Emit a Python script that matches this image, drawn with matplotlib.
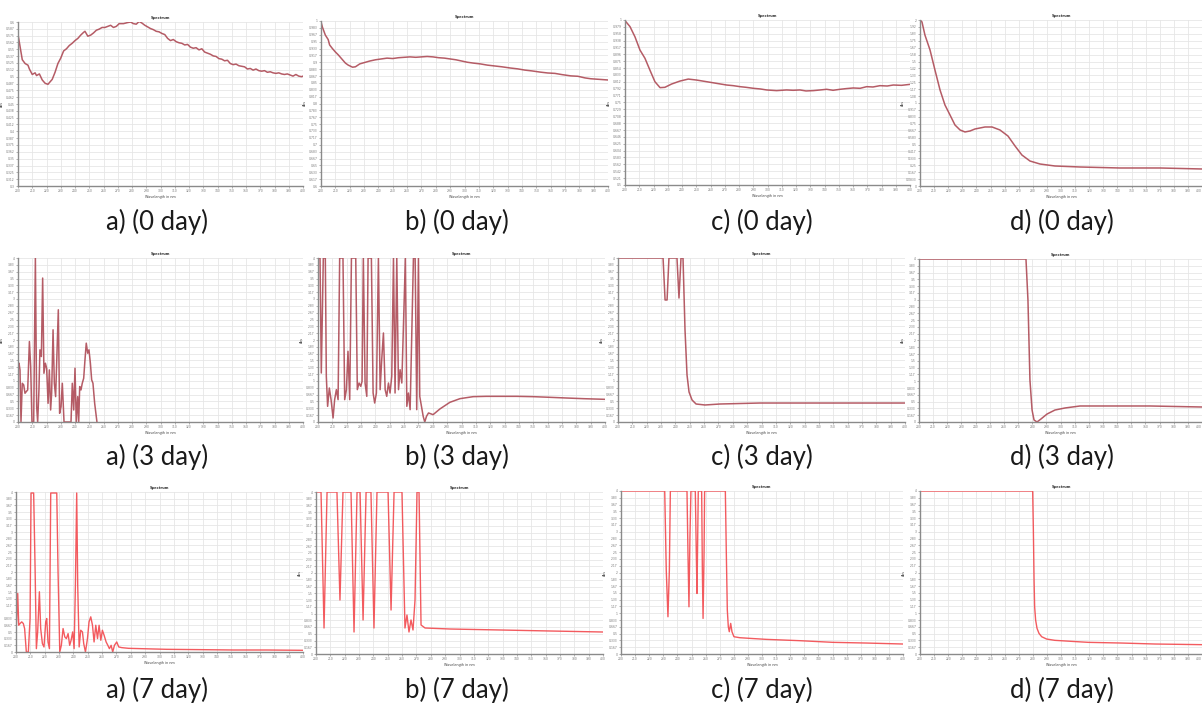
import numpy as np
import matplotlib
matplotlib.use("Agg")
import matplotlib.pyplot as plt

# ---------------- data (wavelength nm, absorbance) ----------------
a0_x = [200, 201, 203, 205, 207, 208, 210, 212, 213, 215, 217, 219, 221, 222, 224, 226, 228, 230,
        232, 234, 236, 238, 240, 242, 244, 246, 247, 249, 251, 253, 255, 257, 259, 261, 263, 265,
        267, 269, 271, 274, 277, 279, 281, 283, 285, 287, 289, 291, 293, 295, 297, 299, 301, 303,
        305, 307, 309, 311, 313, 315, 317, 319, 321, 323, 325, 327, 329, 331, 333, 335, 337, 339,
        341, 343, 345, 347, 349, 351, 353, 355, 357, 359, 361, 363, 365, 367, 369, 371, 373, 375,
        377, 379, 381, 383, 385, 387, 389, 391, 393, 395, 397, 399, 400]
a0_y = [0.577, 0.562, 0.531, 0.524, 0.521, 0.514, 0.504, 0.507, 0.502, 0.505, 0.494, 0.488, 0.486,
        0.489, 0.495, 0.508, 0.524, 0.534, 0.547, 0.551, 0.557, 0.561, 0.566, 0.570, 0.576, 0.581,
        0.583, 0.574, 0.576, 0.580, 0.585, 0.587, 0.590, 0.590, 0.592, 0.594, 0.590, 0.592, 0.597,
        0.597, 0.599, 0.600, 0.597, 0.596, 0.601, 0.598, 0.594, 0.591, 0.588, 0.586, 0.583, 0.582,
        0.579, 0.577, 0.570, 0.566, 0.568, 0.564, 0.562, 0.561, 0.558, 0.559, 0.554, 0.552, 0.553,
        0.549, 0.551, 0.545, 0.543, 0.541, 0.538, 0.537, 0.533, 0.532, 0.529, 0.530, 0.524, 0.522,
        0.523, 0.520, 0.519, 0.518, 0.514, 0.515, 0.512, 0.514, 0.511, 0.510, 0.511, 0.508, 0.509,
        0.507, 0.506, 0.507, 0.505, 0.504, 0.505, 0.503, 0.501, 0.504, 0.501, 0.500, 0.501]

b0_x = [200, 201, 203, 205, 206, 208, 210, 212, 214, 217, 219, 222, 224, 227, 230, 234, 238, 242,
        246, 250, 254, 258, 262, 266, 270, 274, 278, 282, 286, 290, 294, 298, 302, 306, 311, 316,
        321, 326, 332, 337, 342, 347, 353, 358, 363, 368, 374, 379, 384, 388, 392, 396, 400]
b0_y = [0.998, 0.985, 0.966, 0.955, 0.942, 0.933, 0.925, 0.918, 0.910, 0.898, 0.893, 0.888, 0.889,
        0.896, 0.899, 0.903, 0.906, 0.908, 0.910, 0.909, 0.911, 0.912, 0.913, 0.912, 0.913, 0.914,
        0.913, 0.911, 0.910, 0.908, 0.906, 0.903, 0.900, 0.898, 0.896, 0.893, 0.891, 0.889, 0.886,
        0.884, 0.881, 0.879, 0.876, 0.874, 0.873, 0.870, 0.867, 0.866, 0.862, 0.860, 0.859, 0.858,
        0.857]

c0_x = [200, 203.5, 207, 210.5, 214, 217.5, 221, 224.6, 228, 232.7, 238.6, 244.4, 250.3, 257.3,
        264.3, 271.3, 276, 280.7, 285, 290.1, 295, 299.4, 306.4, 313.4, 318, 322.8, 327, 332.2,
        337, 341.5, 346, 350.9, 355, 360.2, 365, 369.6, 374, 378.9, 384, 388.3, 394, 400]
c0_y = [0.998, 0.980, 0.949, 0.909, 0.884, 0.848, 0.813, 0.795, 0.796, 0.806, 0.815, 0.821, 0.818,
        0.813, 0.808, 0.803, 0.801, 0.798, 0.796, 0.793, 0.791, 0.788, 0.786, 0.788, 0.787, 0.788,
        0.785, 0.786, 0.788, 0.790, 0.787, 0.790, 0.792, 0.794, 0.793, 0.798, 0.797, 0.801, 0.800,
        0.803, 0.802, 0.805]

d0_x = [200, 201.4, 203.5, 207.1, 210.6, 214.2, 217.7, 221.3, 224.8, 228.4, 231.9, 235.5, 239.0,
        246.1, 251.1, 256.7, 262.4, 267.4, 272.3, 278.0, 285.1, 295.7, 313.5, 341.8, 370.2, 400]
d0_y = [2.00, 1.976, 1.819, 1.639, 1.398, 1.157, 0.976, 0.855, 0.735, 0.675, 0.651, 0.663, 0.687,
        0.711, 0.711, 0.675, 0.602, 0.482, 0.373, 0.301, 0.265, 0.241, 0.229, 0.217, 0.217, 0.205]

a3_x = [200.0, 200.7, 201.4, 202.1, 203.0, 204.0, 204.9, 205.8, 206.8, 208.0, 208.9, 209.8, 211.0,
        212.2, 213.1, 213.8, 214.7, 215.4, 216.4, 217.3, 218.2, 219.2, 220.1, 221.1, 222.0, 222.9,
        223.6, 224.6, 225.5, 226.4, 228.3, 229.2, 230.2, 231.1, 232.3, 237.2, 238.1, 239.1, 240.0,
        240.9, 241.9, 242.6, 243.3, 244.2, 245.1, 246.1, 247.0, 247.9, 248.9, 249.8, 250.8, 251.7,
        252.6, 253.8, 255.4, 256.5]
a3_y = [1.393, 1.434, 1.271, 0.008, 0.945, 0.904, 0.701, 0.741, 0.782, 1.963, 1.352, 0.0, 0.0,
        4.0, 0.375, 0.0, 0.782, 1.760, 1.597, 3.511, 1.189, 1.434, 1.312, 0.456, 1.271, 0.293,
        0.701, 2.249, 0.945, 0.619, 2.737, 0.212, 0.375, 0.945, 0.0, 0.0, 0.945, 0.293, 1.312,
        0.0, 0.619, 0.0, 0.864, 0.782, 0.945, 1.067, 1.515, 1.923, 1.678, 1.760, 1.434, 1.027,
        0.945, 0.456, 0.0, -0.3]

b3_x = [200.0, 201.4, 202.3, 203.0, 203.7, 205.1, 205.8, 206.7, 207.9, 209.1, 210.5, 211.6, 212.8,
        214.0, 215.1, 217.4, 218.6, 219.8, 220.9, 222.1, 223.3, 226.3, 227.4, 228.6, 229.8, 230.7,
        231.6, 232.8, 234.0, 234.9, 237.2, 238.4, 239.5, 240.7, 242.1, 243.3, 244.4, 245.6, 246.8,
        247.9, 249.1, 250.2, 251.4, 252.6, 253.7, 254.9, 256.1, 257.2, 258.4, 260.9, 261.9, 263.0,
        264.2, 266.5, 267.7, 268.8, 270.0, 270.9, 272.1, 273.3, 274.4, 275.6, 277.0, 278.4, 280.2,
        284.9, 291.9, 298.9, 308.1, 317.4, 326.8, 338.4, 350.0, 361.7, 373.3, 384.9, 400.0]
b3_y = [4.0, 4.0, 1.195, 2.577, 4.0, 4.0, 1.114, 0.382, 0.829, 0.545, 0.098, 0.545, 0.789, 0.545,
        4.0, 4.0, 0.545, 0.789, 1.724, 0.545, 4.0, 4.0, 0.789, 0.951, 0.870, 0.992, 4.0, 0.951,
        0.626, 4.0, 4.0, 0.707, 0.463, 0.707, 4.0, 0.789, 1.520, 2.171, 0.789, 0.626, 0.951, 0.707,
        1.114, 4.0, 0.707, 4.0, 0.789, 1.276, 0.951, 4.0, 0.382, 0.707, 0.301, 4.0, 4.0, 0.301,
        4.0, 0.626, 0.382, 0.138, 0.0, 0.138, 0.220, 0.203, 0.179, 0.317, 0.480, 0.569, 0.618,
        0.626, 0.626, 0.626, 0.618, 0.602, 0.585, 0.569, 0.553]

c3_x = [200, 231.4, 232.8, 234.2, 235.5, 241.1, 242.5, 243.9, 245.3, 246.7, 248.1, 249.5, 251.6,
        254.4, 260.6, 271.1, 299.0, 326.9, 361.7, 400]
c3_y = [4.0, 4.0, 2.976, 2.976, 4.0, 4.0, 3.024, 4.0, 4.0, 2.244, 1.146, 0.732, 0.537, 0.439,
        0.415, 0.439, 0.463, 0.463, 0.463, 0.463]

d3_x = [200, 275.6, 277.0, 278.4, 279.9, 281.3, 283.4, 286.2, 290.5, 296.1, 303.2, 313.8, 335.0,
        363.2, 400]
d3_y = [4.0, 4.0, 2.994, 1.031, 0.294, 0.049, 0.0, 0.074, 0.196, 0.294, 0.344, 0.393, 0.393,
        0.393, 0.368]

a7_x = [200.0, 200.5, 201.2, 201.9, 202.8, 204.0, 205.1, 206.0, 207.2, 208.6, 209.8, 210.5, 212.3,
        213.3, 214.2, 215.1, 216.3, 217.2, 218.4, 219.5, 220.7, 221.4, 222.3, 223.3, 224.2, 228.4,
        229.3, 230.5, 231.6, 232.8, 234.0, 235.1, 236.3, 237.4, 238.4, 239.5, 240.5, 241.4, 242.3,
        243.0, 244.0, 245.1, 246.3, 247.2, 248.4, 249.8, 250.9, 252.1, 253.3, 254.4, 255.6, 256.8,
        257.9, 259.1, 260.2, 261.4, 262.8, 264.0, 265.1, 266.3, 267.4, 268.6, 270.2, 271.6, 273.7,
        278.4, 286.5, 305.1, 328.4, 351.7, 374.9, 400.0]
a7_y = [0.502, 0.837, 1.464, 0.669, 0.711, 0.753, 0.711, 0.586, 0.0, 0.0, 0.837, 3.975, 3.975,
        2.092, 0.084, 0.502, 1.506, 0.586, 0.209, 0.126, 0.753, 0.837, 0.251, 0.084, 3.975, 3.975,
        2.008, 0.0, 0.167, 0.586, 0.377, 0.335, 0.460, 0.167, 0.293, 0.502, 0.084, 1.674, 3.975,
        1.674, 0.126, 0.544, 0.502, 0.209, 0.0, 0.335, 0.753, 0.879, 0.669, 0.251, 0.669, 0.335,
        0.669, 0.293, 0.544, 0.418, 0.251, 0.167, 0.084, 0.167, 0.0, 0.167, 0.251, 0.126, 0.109,
        0.092, 0.084, 0.067, 0.059, 0.050, 0.050, 0.042]

b7_x = [200.0, 203.5, 205.6, 207.7, 214.6, 216.7, 218.8, 224.4, 226.5, 228.6, 230.7, 232.8, 234.9,
        238.3, 240.4, 242.5, 250.2, 252.3, 254.4, 259.9, 262.0, 263.4, 264.8, 266.2, 267.6, 269.0,
        270.4, 271.8, 273.2, 276.0, 293.4, 328.2, 363.1, 400.0]
b7_y = [4.0, 4.0, 0.642, 4.0, 4.0, 1.333, 4.0, 4.0, 0.543, 4.0, 4.0, 0.840, 4.0, 4.0, 0.642, 4.0,
        4.0, 1.086, 4.0, 4.0, 0.642, 0.963, 0.543, 0.840, 0.593, 1.333, 4.0, 4.0, 0.716, 0.642,
        0.617, 0.593, 0.568, 0.543]

c7_x = [200, 231.0, 232.1, 233.3, 234.3, 235.0, 246.8, 247.5, 248.2, 248.9, 249.6, 252.7, 253.4,
        253.9, 254.4, 254.8, 257.2, 257.7, 258.2, 258.9, 259.3, 274.0, 274.7, 275.4, 276.1, 276.8,
        277.8, 278.7, 280.1, 284.2, 291.3, 303.1, 326.7, 350.4, 374.0, 400.0]
c7_y = [4.0, 4.0, 2.057, 0.914, 2.057, 4.0, 4.0, 2.465, 1.159, 2.873, 4.0, 4.0, 2.465, 1.486,
        2.873, 4.0, 4.0, 2.057, 0.873, 2.465, 4.0, 4.0, 2.465, 1.078, 0.669, 0.547, 0.751, 0.547,
        0.424, 0.400, 0.384, 0.359, 0.327, 0.286, 0.269, 0.245]

d7_x = [200, 279.9, 280.4, 280.9, 281.3, 282.0, 283.0, 284.4, 286.3, 289.8, 295.7, 307.6, 319.4,
        343.0, 366.7, 400.0]
d7_y = [4.0, 4.0, 3.037, 1.812, 1.159, 0.833, 0.629, 0.506, 0.424, 0.367, 0.335, 0.310, 0.286,
        0.269, 0.245, 0.229]

captions = ["a) (0 day)", "b) (0 day)", "c) (0 day)", "d) (0 day)",
            "a) (3 day)", "b) (3 day)", "c) (3 day)", "d) (3 day)",
            "a) (7 day)", "b) (7 day)", "c) (7 day)", "d) (7 day)"]

series = [(a0_x, a0_y), (b0_x, b0_y), (c0_x, c0_y), (d0_x, d0_y),
          (a3_x, a3_y), (b3_x, b3_y), (c3_x, c3_y), (d3_x, d3_y),
          (a7_x, a7_y), (b7_x, b7_y), (c7_x, c7_y), (d7_x, d7_y)]

ylims = [(0.30, 0.60), (0.60, 1.00), (0.50, 1.00), (0.0, 2.0),
         (0, 4), (0, 4), (0, 4), (0, 4),
         (0, 4), (0, 4), (0, 4), (0, 4)]

# ---------------- layout (pixel boxes: left, right, top, bottom) ----------------
W, H = 1202, 703
boxes = [(18, 303, 22, 186), (321, 608, 21, 186), (625, 910, 20, 185), (920, 1202, 20, 186),
         (18, 303, 258, 422), (318, 605, 258, 422), (618, 905, 258, 422), (919, 1202, 259, 422),
         (16, 303, 492, 652), (316, 603, 492, 654), (621, 903, 491, 654), (920, 1202, 491, 654)]
cap_x = [157, 457, 762, 1062]
cap_y = [222, 457, 690]

fig = plt.figure(figsize=(W / 100, H / 100), dpi=100)
fig.patch.set_facecolor("white")

for i, ((x, y), (l, r, t, b), yl) in enumerate(zip(series, boxes, ylims)):
    ax = fig.add_axes([l / W, 1 - b / H, (r - l) / W, (b - t) / H])
    row = i // 4
    color = "#ad4a55" if row < 2 else "#f2494e"
    ax.plot(x, y, color=color, lw=1.1 if row < 2 else 1.0, alpha=0.9)
    ax.set_xlim(200, 400)
    ax.set_ylim(*yl)
    ax.set_xticks(np.arange(200, 401, 10))
    yt = np.linspace(yl[0], yl[1], 25)
    ax.set_yticks(yt)
    ax.set_yticklabels([f"{v:.3g}" for v in yt])
    ax.tick_params(labelsize=2.2, colors="#777777", length=1.5, width=0.4, pad=1)
    if i % 4 == 3:
        ax.get_xticklabels()[-1].set_horizontalalignment("right")
    ax.grid(True, color="#e6e6e6", lw=0.6)
    for s in ("top", "right"):
        ax.spines[s].set_visible(False)
    for s in ("left", "bottom"):
        ax.spines[s].set_color("#8a8a8a")
        ax.spines[s].set_linewidth(1.0)
    ax.set_title("Spectrum", fontsize=2.6, fontweight="bold", pad=2, color="#333333")
    ax.set_xlabel("Wavelength in nm", fontsize=2.4, labelpad=1, color="#444444")
    ax.set_ylabel("Abs", fontsize=2.4, labelpad=1, color="#444444")
    fig.text(cap_x[i % 4] / W, 1 - cap_y[row] / H, captions[i], ha="center", va="center",
             fontsize=18.5, fontweight="normal", family=["Lato", "DejaVu Sans"], color="#1a1a1a")

fig.savefig("out.png", dpi=100, facecolor="white")
